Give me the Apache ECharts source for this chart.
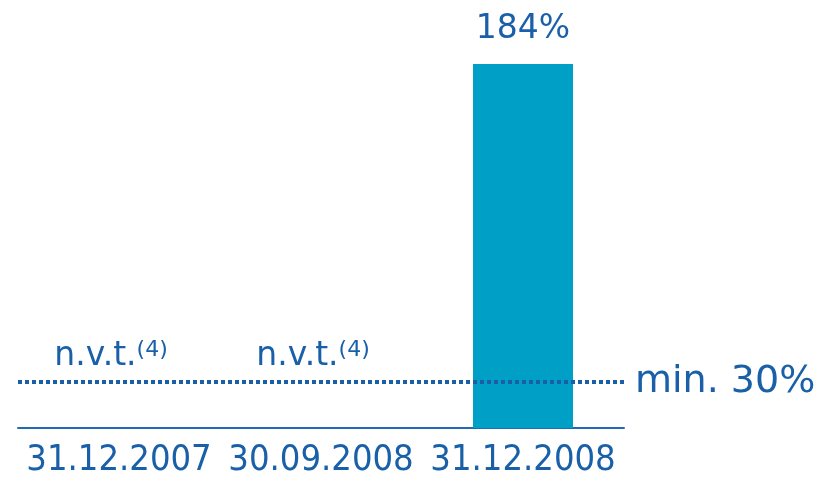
<!DOCTYPE html>
<html>
<head>
<meta charset="utf-8">
<script src="https://cdn.jsdelivr.net/npm/echarts@6/dist/echarts.min.js"></script>
<style>html,body{margin:0;padding:0;background:#fff}#c{width:827px;height:482px}</style>
</head>
<body>
<div id="c"></div>
<script>
var categories = ['31.12.2007', '30.09.2008', '31.12.2008'];
var ratioValues = [null, null, 184];
var naLabels = ['n.v.t.', 'n.v.t.', null];
var naNote = '(4)';
var minimumRequired = 30;
var minimumLabel = 'min. 30%';

var textBlue = '#1a60a8';
var barColor = '#00a0c6';
var fontWide = 'DejaVu Sans';
var fontCond = 'DejaVu Sans Condensed';

var chart = echarts.init(document.getElementById('c'));
var naData = [];
naLabels.forEach(function (t, i) { if (t) naData.push([i, minimumRequired, t]); });

chart.setOption({
  animation: false,
  grid: { left: 18, right: 203, top: 64, bottom: 54 },
  xAxis: {
    type: 'category',
    data: categories,
    axisLine: { onZero: false, lineStyle: { color: '#1f6cb2', width: 2 } },
    axisTick: { show: false },
    axisLabel: { interval: 0, color: textBlue, fontSize: 36, fontFamily: fontCond, margin: 15 }
  },
  yAxis: {
    type: 'value',
    min: 7.7,
    max: 184,
    show: false,
    splitLine: { show: false }
  },
  series: [
    {
      type: 'bar',
      data: ratioValues,
      barWidth: 100,
      itemStyle: { color: barColor },
      label: {
        show: true,
        position: 'top',
        distance: 18,
        color: textBlue,
        fontSize: 33,
        fontFamily: fontWide,
        formatter: function (p) { return p.value + '%'; }
      },
      markLine: {
        silent: true,
        symbol: 'none',
        lineStyle: { color: '#1a5ea8', width: 4, type: [4, 3] },
        label: {
          show: true,
          position: 'end',
          distance: 11,
          color: textBlue,
          fontSize: 38,
          fontFamily: fontWide,
          formatter: minimumLabel
        },
        data: [{ yAxis: minimumRequired }]
      },
      z: 2
    },
    {
      type: 'scatter',
      data: naData,
      symbolSize: 0,
      itemStyle: { opacity: 1 },
      label: {
        show: true,
        position: 'top',
        distance: 9,
        offset: [-8, 0],
        formatter: function (p) { return '{a|' + p.data[2] + '}{b|' + naNote + '}'; },
        rich: {
          a: { color: textBlue, fontSize: 33, fontFamily: fontWide },
          b: { color: textBlue, fontSize: 22, fontFamily: fontWide, verticalAlign: 'top', padding: [0, 0, 12, 0] }
        }
      },
      z: 3
    }
  ]
});
</script>
</body>
</html>
